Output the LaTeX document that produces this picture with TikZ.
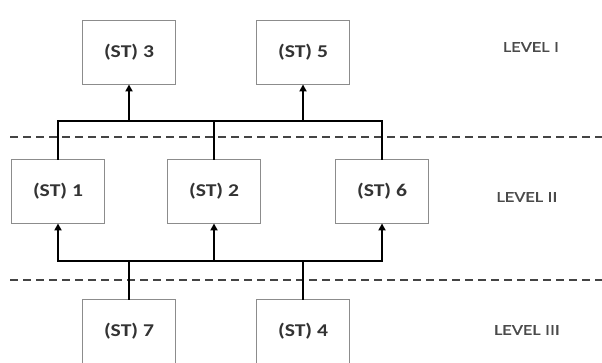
\documentclass[tikz,border=0pt]{standalone}
\usepackage{fontspec}
\usepackage{tikz}
\usetikzlibrary{arrows.meta,positioning,calc}
\newfontfamily\stfont[FakeStretch=1.2]{Carlito}
\newfontfamily\levelfont[FakeStretch=1.3,FakeBold=0.6]{Carlito}
\definecolor{boxline}{HTML}{8C8C8C}
\definecolor{boxtext}{HTML}{333333}
\definecolor{leveltext}{HTML}{4A4A4A}
\definecolor{sep}{HTML}{444444}
\tikzset{
  stbox/.style={draw=boxline,line width=0.9pt,fill=white,minimum width=93pt,minimum height=64pt,
    inner sep=0pt,font=\stfont\bfseries\fontsize{18}{20}\selectfont,text=boxtext},
  levellabel/.style={font=\levelfont\fontsize{15}{17}\selectfont,text=leveltext},
  bus/.style={line width=2.2pt,line cap=rect},
  busarrow/.style={line width=2.2pt,-{Triangle[length=7pt,width=7pt]}},
  sepline/.style={sep,line width=1.6pt,dash pattern=on 8pt off 5pt}
}
\begin{document}
\begin{tikzpicture}[x=1pt,y=-1pt]
  \useasboundingbox (0,0) rectangle (602,362);
  \clip (0,0) rectangle (602,362);

  % Level separators
  \draw[sepline] (10,137) -- (602,137);
  \draw[sepline] (10,280) -- (602,280);

  % Level I
  \node[stbox] (st3) at (129,52) {(ST) 3};
  \node[stbox] (st5) at (303,52) {(ST) 5};
  \node[levellabel] (lev1) at (531,47) {LEVEL I};

  % Level II
  \node[stbox] (st1) at (58,191) {(ST) 1};
  \node[stbox] (st2) at (214,191) {(ST) 2};
  \node[stbox] (st6) at (382,191) {(ST) 6};
  \node[levellabel] (lev2) at (527,197) {LEVEL II};

  % Level III
  \node[stbox] (st7) at (129,331) {(ST) 7};
  \node[stbox] (st4) at (303,331) {(ST) 4};
  \node[levellabel] (lev3) at (527,330) {LEVEL III};

  % Buses
  \coordinate (topbus) at (0,121);
  \coordinate (lowbus) at (0,261);

  % Level II -> Level I
  \draw[bus] (st1.north) |- (st6.north |- topbus) -- (st6.north);
  \draw[bus] (st2.north) -- (st2.north |- topbus);
  \draw[busarrow] (st3.south |- topbus) -- (st3.south);
  \draw[busarrow] (st5.south |- topbus) -- (st5.south);

  % Level III -> Level II
  \draw[bus] (st1.south |- lowbus) -- (st6.south |- lowbus);
  \draw[bus] (st7.north) -- (st7.north |- lowbus);
  \draw[bus] (st4.north) -- (st4.north |- lowbus);
  \draw[busarrow] (st1.south |- lowbus) -- (st1.south);
  \draw[busarrow] (st2.south |- lowbus) -- (st2.south);
  \draw[busarrow] (st6.south |- lowbus) -- (st6.south);
\end{tikzpicture}
\end{document}
